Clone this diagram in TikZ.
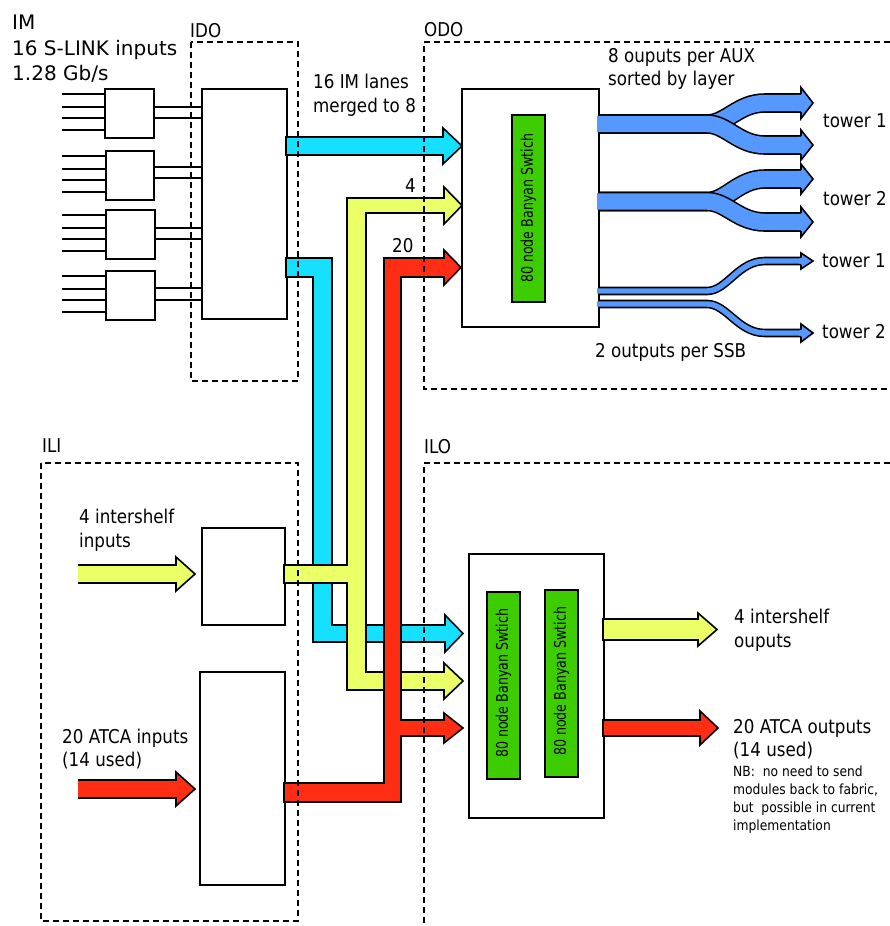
\documentclass[tikz,border=0pt]{standalone}
\usepackage{fontspec}
\setmainfont{DejaVu Sans}
\newfontfamily\cnd{DejaVu Sans}[FakeStretch=0.88]
\newfontfamily\cndr{DejaVu Sans}[FakeStretch=0.79]
\definecolor{cyanA}{RGB}{22,224,255}
\definecolor{yelA}{RGB}{235,255,102}
\definecolor{redA}{RGB}{255,45,20}
\definecolor{blueA}{RGB}{85,153,255}
\definecolor{greenA}{RGB}{60,204,0}
% blue branch: #1 width, #2 start centre y, #3 end centre y, #4 head half height
\newcommand{\bbr}[4]{%
  \draw[line width=#1pt+1.6pt, black] (598,#2) -- (707,#2) .. controls (727,#2) and (738,#3) .. (765,#3) -- (801,#3);
  \draw[line width=#1pt-1.6pt, blueA] (597,#2) -- (707,#2) .. controls (727,#2) and (738,#3) .. (765,#3) -- (801,#3);
  \fill[blueA] (799,{#3-#1/2+0.8}) -- (801,{#3-#1/2+0.8}) -- (801,{#3-#4}) -- (813,#3) -- (801,{#3+#4}) -- (801,{#3+#1/2-0.8}) -- (799,{#3+#1/2-0.8}) -- cycle;
  \draw[line width=1.6pt, line join=miter] (801,{#3-#1/2}) -- (801,{#3-#4}) -- (813,#3) -- (801,{#3+#4}) -- (801,{#3+#1/2});
}
\begin{document}
\begin{tikzpicture}[x=1pt,y=-1pt,
  plainbox/.style={draw, line width=1.8pt, fill=white, inner sep=0pt, anchor=north west},
  gbox/.style={draw, line width=1.8pt, fill=greenA, inner sep=0pt, anchor=north west},
  dframe/.style={draw, line width=1.4pt, dash pattern=on 6pt off 4pt},
  wire/.style={line width=1.8pt},
  fat/.style={draw=black, line width=1.6pt, line join=miter},
  lbl/.style={anchor=base west, inner sep=0pt, font=\cnd\fontsize{19}{22}\selectfont},
  imlbl/.style={anchor=base west, inner sep=0pt, font=\fontsize{20}{24}\selectfont},
  nblbl/.style={anchor=base west, inner sep=0pt, font=\cnd\fontsize{14}{17}\selectfont},
  rotlbl/.style={rotate=90, inner sep=0pt, font=\cndr\fontsize{16}{19}\selectfont}
]
\useasboundingbox (0,0) rectangle (890,926);
\fill[white] (0,0) rectangle (890,926);

% ---------- boxes ----------
\node[plainbox, minimum width=49pt, minimum height=49pt] (m1) at (104,88) {};
\node[plainbox, minimum width=48pt, minimum height=49pt] (m2) at (105,150) {};
\node[plainbox, minimum width=49pt, minimum height=49pt] (m3) at (105,209) {};
\node[plainbox, minimum width=49pt, minimum height=49pt] (m4) at (105,270) {};
\node[plainbox, minimum width=85pt, minimum height=230pt] (ido) at (201,88) {};
\node[plainbox, minimum width=83pt, minimum height=97pt] (ili1) at (201,527) {};
\node[plainbox, minimum width=85pt, minimum height=213pt] (ili2) at (199,671) {};
\node[plainbox, minimum width=137pt, minimum height=238pt] (odo) at (461,88) {};
\node[gbox, minimum width=33pt, minimum height=187pt] (g0) at (511,114) {};
\node[plainbox, minimum width=135pt, minimum height=264pt] (ilo) at (468,553) {};
\node[gbox, minimum width=33pt, minimum height=187pt] (g1) at (486,591) {};
\node[gbox, minimum width=33pt, minimum height=187pt] (g2) at (544,589) {};

\node[rotlbl] (t0) at (g0.center) {80 node Banyan Swtich};
\node[rotlbl] (t1) at ([yshift=2pt]g1.center) {80 node Banyan Swtich};
\node[rotlbl] (t2) at ([yshift=2pt]g2.center) {80 node Banyan Swtich};

% ---------- input wires ----------
\foreach \y in {94,107,118,130} \draw[wire] (62,\y) -- (104,\y);
\foreach \y in {156,169,180,192} \draw[wire] (62,\y) -- (105,\y);
\foreach \y in {215,228,239,251} \draw[wire] (62,\y) -- (105,\y);
\foreach \y in {276,289,300,312} \draw[wire] (62,\y) -- (105,\y);
\foreach \y in {107,118} \draw[wire] (153,\y) -- (201,\y);
\foreach \y in {167,178} \draw[wire] (153,\y) -- (201,\y);
\foreach \y in {228,239} \draw[wire] (154,\y) -- (201,\y);
\foreach \y in {288,300} \draw[wire] (154,\y) -- (201,\y);

% ---------- cyan ----------
\filldraw[fat, fill=cyanA] (286,137) -- (443,137) -- (443,128) -- (462,146) -- (443,164) -- (443,155) -- (286,155) -- cycle;
\filldraw[fat, fill=cyanA] (286,258) -- (332,258) -- (332,625) -- (445,625) -- (445,615) -- (463,633.5) -- (445,652) -- (445,642) -- (313,642) -- (313,277) -- (286,277) -- cycle;
% ---------- yellow ----------
\filldraw[fat, fill=yelA] (284,565) -- (347,565) -- (347,198) -- (444,198) -- (444,187) -- (462,205.5) -- (444,224) -- (444,213) -- (366,213) -- (366,672) -- (444,672) -- (444,663) -- (463,681) -- (444,699) -- (444,690) -- (347,690) -- (347,583) -- (284,583) -- cycle;
% ---------- red ----------
\filldraw[fat, fill=redA] (284,783) -- (384,783) -- (384,258) -- (444,258) -- (444,250) -- (461,267.5) -- (444,285) -- (444,277) -- (401,277) -- (401,720) -- (444,720) -- (444,713) -- (463,728) -- (444,743) -- (444,736) -- (401,736) -- (401,802) -- (284,802) -- cycle;

% ILI inputs
\fill[yelA] (78,565) -- (176,565) -- (176,557) -- (195,574) -- (176,591) -- (176,583) -- (78,583) -- cycle;
\draw[fat] (78,565) -- (176,565) -- (176,557) -- (195,574) -- (176,591) -- (176,583) -- (78,583);
\fill[redA] (78,780) -- (176,780) -- (176,772) -- (195,789) -- (176,806) -- (176,798) -- (78,798) -- cycle;
\draw[fat] (78,780) -- (176,780) -- (176,772) -- (195,789) -- (176,806) -- (176,798) -- (78,798);

% ILO outputs
\filldraw[fat, fill=yelA] (603,619) -- (698,619) -- (698,613) -- (717,629.5) -- (698,646) -- (698,640) -- (603,640) -- cycle;
\filldraw[fat, fill=redA] (603,720) -- (700,720) -- (700,711) -- (718,728) -- (700,745) -- (700,736) -- (603,736) -- cycle;

% ---------- blue outputs ----------
\bbr{18}{124}{103}{15.5}
\bbr{18}{124}{145}{15}
\bbr{18}{201.5}{179}{15}
\bbr{18}{201.5}{222}{15}
\bbr{7}{291}{261}{8}
\bbr{7}{304}{333}{9}

% ---------- dashed frames ----------
\draw[dframe] (191,42) rectangle (298,381);
\draw[dframe] (890,42) -- (424,42) -- (424,389) -- (890,389);
\draw[dframe] (41,463) rectangle (298,921);
\draw[dframe] (890,463) -- (424,463) -- (424,926);

% ---------- labels ----------
\node[imlbl] (im1) at (12,29) {IM};
\node[imlbl] (im2) at (12,55) {16 S-LINK inputs};
\node[imlbl] (im3) at (12,80) {1.28 Gb/s};
\node[lbl] (lido) at (190,37) {IDO};
\node[lbl] (lodo) at (424,36) {ODO};
\node[lbl] (lili) at (42,452) {ILI};
\node[lbl] (lilo) at (424,453) {ILO};
\node[lbl] (la1) at (313,88) {16 IM lanes};
\node[lbl] (la2) at (313,112) {merged to 8};
\node[lbl] (l4) at (405,192) {4};
\node[lbl] (l20) at (392,252) {20};
\node[lbl] (lb1) at (608,62) {8 ouputs per AUX};
\node[lbl] (lb2) at (608,85) {sorted by layer};
\node[lbl] (tw1) at (823,127) {tower 1};
\node[lbl] (tw2) at (823,205) {tower 2};
\node[lbl] (tw3) at (822,267) {tower 1};
\node[lbl] (tw4) at (822,338) {tower 2};
\node[lbl] (lssb) at (595,357) {2 outputs per SSB};
\node[lbl] (li1) at (79,523) {4 intershelf};
\node[lbl] (li2) at (79,547) {inputs};
\node[lbl] (li3) at (62,743) {20 ATCA inputs};
\node[lbl] (li4) at (62,766) {(14 used)};
\node[lbl] (lo1) at (734,623) {4 intershelf};
\node[lbl] (lo2) at (734,647) {ouputs};
\node[lbl] (lo3) at (733,733) {20 ATCA outputs};
\node[lbl] (lo4) at (733,756) {(14 used)};
\node[nblbl] (nb1) at (733,776) {NB:~ no need to send};
\node[nblbl] (nb2) at (733,794) {modules back to fabric,};
\node[nblbl] (nb3) at (733,812) {but~ possible in current};
\node[nblbl] (nb4) at (733,830) {implementation};
\end{tikzpicture}
\end{document}
